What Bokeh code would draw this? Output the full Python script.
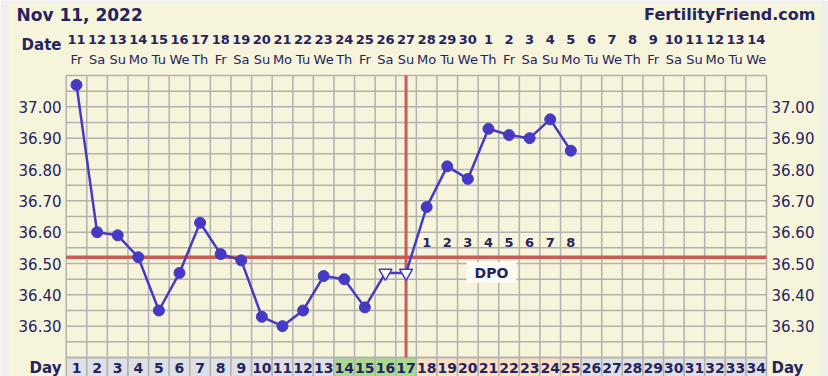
from bokeh.plotting import figure
from bokeh.models import Range1d
from bokeh.embed import file_html
from bokeh.resources import INLINE
from bokeh.core.properties import value

# ---------------- data ----------------
chart_date = "Nov 11, 2022"
site = "FertilityFriend.com"
days = list(range(1, 35))
dates = ["11", "12", "13", "14", "15", "16", "17", "18", "19", "20", "21", "22", "23", "24",
         "25", "26", "27", "28", "29", "30", "1", "2", "3", "4", "5", "6", "7", "8", "9",
         "10", "11", "12", "13", "14"]
weekdays = ["Fr", "Sa", "Su", "Mo", "Tu", "We", "Th"] * 5
weekdays = weekdays[:34]
phases = ["none"] * 13 + ["fertile"] * 4 + ["luteal"] * 8 + ["none"] * 9

temp_days = list(range(1, 26))
temps = [37.07, 36.60, 36.59, 36.52, 36.35, 36.47, 36.63, 36.53, 36.51, 36.33,
         36.30, 36.35, 36.46, 36.45, 36.36, 36.47, 36.47, 36.68, 36.81, 36.77,
         36.93, 36.91, 36.90, 36.96, 36.86]
markers = ["dot"] * 15 + ["open"] * 2 + ["dot"] * 8

coverline = 36.52
ovulation_day = 17
dpo_days = list(range(18, 26))
dpo_labels = [str(i) for i in range(1, 9)]
y_ticks = [36.30, 36.40, 36.50, 36.60, 36.70, 36.80, 36.90, 37.00]
y_min, y_max, y_step = 36.20, 37.10, 0.05

# ---------------- layout ----------------
W, H = 828, 376
grid_left, grid_right = 65.7, 766.0
grid_top, grid_bottom = 75.0, 357.0
col_w = (grid_right - grid_left) / 34
px_per_deg = (grid_bottom - grid_top) / (y_max - y_min)

def dx(px):
    return 0.5 + (px - grid_left) / col_w

def dy(py):
    return y_max - (py - grid_top) / px_per_deg

NAVY = "#24245e"
CREAM = "#f7f4dc"
GRIDC = "#b2b2b0"
RED = "#cc5a55"
BLUE = "#4639c4"
FONT = value("DejaVu Sans")

p = figure(width=W, height=H, output_backend="svg", toolbar_location=None,
           x_range=Range1d(dx(0), dx(W)), y_range=Range1d(dy(H), dy(0)),
           x_axis_location=None, y_axis_location=None, min_border=0)
p.outline_line_color = None
p.grid.visible = False
p.background_fill_color = "#efefef"
p.border_fill_color = "#efefef"

# cream panel
p.quad(left=[dx(8)], right=[dx(822)], top=[dy(3)], bottom=[dy(H + 5)],
       fill_color=CREAM, line_color=None)

# day row cells
phase_col = {"none": "#dfdfe6", "fertile": "#a9d98e", "luteal": "#f9dfc4"}
p.quad(left=[d - 0.5 for d in days], right=[d + 0.5 for d in days],
       top=[y_min] * 34, bottom=[dy(H + 5)] * 34,
       fill_color=[phase_col[ph] for ph in phases], line_color=GRIDC, line_width=1.5)

# grid
nrows = int(round((y_max - y_min) / y_step))
hy = [y_min + i * y_step for i in range(nrows + 1)]
p.segment(x0=[0.5] * len(hy), x1=[34.5] * len(hy), y0=hy, y1=hy,
          line_color=GRIDC, line_width=1.5)
vx = [d + 0.5 for d in range(0, 35)]
p.segment(x0=vx, x1=vx, y0=[y_min] * len(vx), y1=[y_max] * len(vx),
          line_color=GRIDC, line_width=1.5)

# coverline & ovulation line
p.segment(x0=[0.5], x1=[34.5], y0=[coverline], y1=[coverline],
          line_color=RED, line_width=3.5)
p.segment(x0=[ovulation_day], x1=[ovulation_day], y0=[y_min], y1=[y_max],
          line_color=RED, line_width=3)

# temperature line
p.line(temp_days, temps, line_color=BLUE, line_width=2.5)
dot_x = [d for d, m in zip(temp_days, markers) if m == "dot"]
dot_y = [t for t, m in zip(temps, markers) if m == "dot"]
open_x = [d for d, m in zip(temp_days, markers) if m == "open"]
open_y = [t for t, m in zip(temps, markers) if m == "open"]
p.scatter(dot_x, dot_y, size=11, marker="circle", fill_color=BLUE, line_color=BLUE)
p.scatter(open_x, open_y, size=13, marker="inverted_triangle",
          fill_color="white", line_color=BLUE, line_width=1.5)

# DPO labels
p.text(x=dpo_days, y=[dy(242)] * len(dpo_days), text=dpo_labels,
       text_font=FONT, text_font_style="bold", text_font_size="13px",
       text_color=NAVY, text_align="center", text_baseline="middle")
dpo_cx = dx(491)
p.rect(x=[dpo_cx], y=[dy(272)], width=50 / col_w, height=21 / px_per_deg,
       fill_color="#fcfbf3", line_color=None)
p.text(x=[dpo_cx], y=[dy(272)], text=["DPO"], text_font=FONT,
       text_font_style="bold", text_font_size="14px", text_color=NAVY,
       text_align="center", text_baseline="middle")

# y labels
p.text(x=[dx(61)] * len(y_ticks), y=y_ticks, text=[f"{v:.2f}" for v in y_ticks],
       text_font=FONT, text_font_size="15px", text_color=NAVY,
       text_align="right", text_baseline="middle")
p.text(x=[dx(771)] * len(y_ticks), y=y_ticks, text=[f"{v:.2f}" for v in y_ticks],
       text_font=FONT, text_font_size="15px", text_color=NAVY,
       text_align="left", text_baseline="middle")

# header
p.text(x=[dx(16)], y=[dy(14)], text=[chart_date], text_font=FONT,
       text_font_style="bold", text_font_size="17px", text_color=NAVY,
       text_align="left", text_baseline="middle")
p.text(x=[dx(815)], y=[dy(14)], text=[site], text_font=FONT,
       text_font_style="bold", text_font_size="16px", text_color=NAVY,
       text_align="right", text_baseline="middle")
p.text(x=[dx(61)], y=[dy(44)], text=["Date"], text_font=FONT,
       text_font_style="bold", text_font_size="15px", text_color=NAVY,
       text_align="right", text_baseline="middle")
p.text(x=days, y=[dy(39)] * 34, text=dates, text_font=FONT,
       text_font_style="bold", text_font_size="13px", text_color=NAVY,
       text_align="center", text_baseline="middle")
p.text(x=days, y=[dy(59)] * 34, text=weekdays, text_font=FONT,
       text_font_size="13px", text_color=NAVY,
       text_align="center", text_baseline="middle")

# day row labels
p.text(x=days, y=[dy(367)] * 34, text=[str(d) for d in days], text_font=FONT,
       text_font_style="bold", text_font_size="14px", text_color=NAVY,
       text_align="center", text_baseline="middle")
p.text(x=[dx(61)], y=[dy(367)], text=["Day"], text_font=FONT,
       text_font_style="bold", text_font_size="15px", text_color=NAVY,
       text_align="right", text_baseline="middle")
p.text(x=[dx(771)], y=[dy(367)], text=["Day"], text_font=FONT,
       text_font_style="bold", text_font_size="15px", text_color=NAVY,
       text_align="left", text_baseline="middle")

open("out.html", "w").write(file_html(p, INLINE))
